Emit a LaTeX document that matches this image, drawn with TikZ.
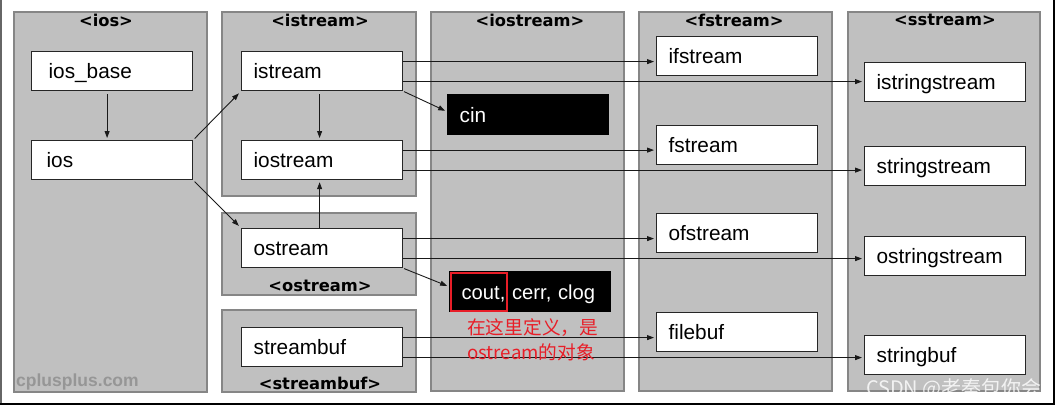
\documentclass[tikz,border=0pt]{standalone}
\usepackage{fontspec}
\usetikzlibrary{arrows.meta}
\newfontfamily\labfont{Liberation Sans}
\newfontfamily\ttlfont{DejaVu Sans}
\newfontfamily\cjkfont{Noto Sans CJK SC}
\definecolor{panelfill}{RGB}{192,192,192}
\definecolor{paneledge}{RGB}{134,134,134}
\definecolor{notered}{RGB}{232,30,40}
\definecolor{wmgray}{RGB}{150,150,150}
\begin{document}
\begin{tikzpicture}[x=1pt,y=-1pt,
  panel/.style={fill=panelfill, draw=paneledge, line width=2.5pt},
  ttl/.style={font=\ttlfont\bfseries\fontsize{16.3}{18}\selectfont, inner sep=0pt},
  box/.style={draw=black!85, line width=1.2pt, fill=white, minimum height=39pt,
    text width=137pt, align=left, inner xsep=12pt, text height=15.5pt, text depth=0.5pt,
    font=\labfont\fontsize{20.8}{24}\selectfont, anchor=north west},
  obj/.style={box, fill=black, draw=black, text=white, minimum height=40pt},
  arr/.style={draw=black!90, line width=0.9pt, -{Triangle[length=7pt,width=5pt]}, shorten >=2pt},
]
\useasboundingbox (0,0) rectangle (1058,408);
% panels
\path[panel] (14,12) rectangle (207,392);
\path[panel] (222,12) rectangle (416,196);
\path[panel] (222,213) rectangle (416,295);
\path[panel] (222,310) rectangle (416,392);
\path[panel] (431,12) rectangle (624,391);
\path[panel] (639,12) rectangle (832,391);
\path[panel] (848,12) rectangle (1040,391);
% frame
\draw[line width=2pt, black!60] (1,0) -- (1,404);
\draw[line width=2.2pt] (1054,0) -- (1054,404);
\draw[line width=2pt] (0,404) -- (1055,404);
% titles
\node[ttl] (tios) at (106,20) {<ios>};
\node[ttl] (tistream) at (320,20) {<istream>};
\node[ttl] (tostream) at (320,286) {<ostream>};
\node[ttl] (tstreambuf) at (320,383) {<streambuf>};
\node[ttl] (tiostream) at (530,20) {<iostream>};
\node[ttl] (tfstream) at (734,20) {<fstream>};
\node[ttl] (tsstream) at (945,20) {<sstream>};
% boxes
\node[box] (iosbase) at (31,51) {\hspace*{5pt}ios\_base};
\node[box] (ios) at (31,140) {\hspace*{3pt}ios};
\node[box] (istream) at (241,51) {istream};
\node[box] (iostream) at (241,140) {iostream};
\node[box] (ostream) at (241,228) {ostream};
\node[box] (streambuf) at (241,327) {streambuf};
\node[obj] (cin) at (447,94) {cin};
\node[obj, font=\labfont\fontsize{20.2}{24}\selectfont] (cout) at (449,271) {\mbox{cout, cerr, clog}};
\node[box] (ifstream) at (656,36) {ifstream};
\node[box] (fstream) at (656,125) {fstream};
\node[box] (ofstream) at (656,213) {ofstream};
\node[box] (filebuf) at (656,312) {filebuf};
\node[box] (istringstream) at (864,62) {istringstream};
\node[box] (stringstream) at (864,146) {stringstream};
\node[box] (ostringstream) at (864,236) {ostringstream};
\node[box] (stringbuf) at (864,335) {stringbuf};
\node[draw=notered, line width=2pt, minimum width=56pt, minimum height=38pt, inner sep=0pt, anchor=north west] (hl) at (450,272) {};
% connectors
\draw[arr, shorten <=3pt] ([xshift=-5pt]iosbase.south) -- ([xshift=-5pt]ios.north);
\draw[arr, shorten <=3pt] ([xshift=-2.5pt]istream.south) -- ([xshift=-2.5pt]iostream.north);
\draw[arr] ([xshift=-2.5pt]ostream.north) -- ([xshift=-2.5pt]iostream.south);
\draw[arr, shorten <=2pt, shorten >=3pt] (ios.north east) -- (istream.south west);
\draw[arr, shorten <=2pt, shorten >=3pt] (ios.south east) -- (ostream.north west);
\draw[arr, shorten <=1pt] (istream.south east) -- ([yshift=3pt]cin.west);
\draw[arr, shorten <=1pt] (ostream.south east) -- ([yshift=5pt]cout.west);
\coordinate (a1) at ([yshift=9.5pt]istream.east);
\coordinate (a2) at ([yshift=-10.5pt]istream.east);
\coordinate (a3) at ([yshift=10pt]iostream.east);
\coordinate (a4) at ([yshift=-10pt]iostream.east);
\coordinate (a5) at ([yshift=9.5pt]ostream.east);
\coordinate (a6) at ([yshift=-10.5pt]ostream.east);
\coordinate (a7) at ([yshift=9.5pt]streambuf.east);
\coordinate (a8) at ([yshift=-10.5pt]streambuf.east);
\draw[arr] (a1) -- (a1 -| ifstream.west);
\draw[arr] (a2) -- (a2 -| istringstream.west);
\draw[arr] (a3) -- (a3 -| fstream.west);
\draw[arr] (a4) -- (a4 -| stringstream.west);
\draw[arr] (a5) -- (a5 -| ofstream.west);
\draw[arr] (a6) -- (a6 -| ostringstream.west);
\draw[arr] (a7) -- (a7 -| filebuf.west);
\draw[arr] (a8) -- (a8 -| stringbuf.west);
% texts
\node[font=\cjkfont\fontsize{18.7}{25}\selectfont, text=notered, align=left, anchor=north west, inner sep=0pt] (note) at (467,318.5) {在这里定义，是\\ostream的对象};
\node[font=\labfont\bfseries\fontsize{17.5}{20}\selectfont, text=wmgray, anchor=west, inner sep=0pt] (cpp) at (16,382) {cplusplus.com};
\node[font=\cjkfont\fontsize{20}{24}\selectfont, text=white, opacity=.8, anchor=east, inner sep=0pt] (csdn) at (1042,389) {CSDN @老秦包你会};
\end{tikzpicture}
\end{document}
